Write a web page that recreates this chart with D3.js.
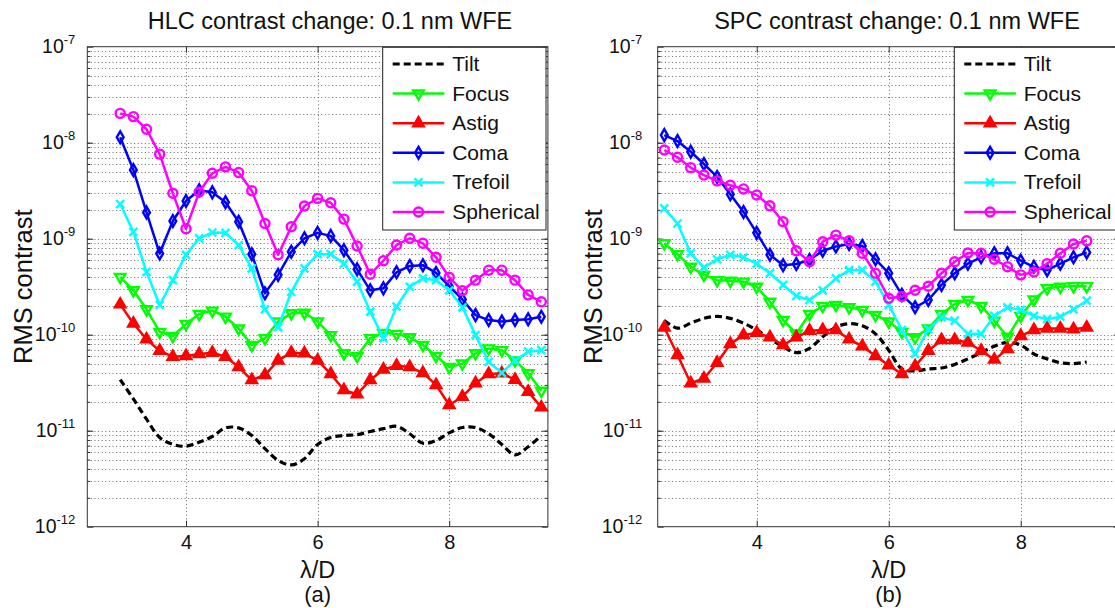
<!DOCTYPE html>
<html>
<head>
<meta charset="utf-8">
<script src="https://cdn.jsdelivr.net/npm/d3@7"></script>
<style>
  html, body { margin: 0; padding: 0; background: #fff; overflow: hidden; }
  svg { display: block; font-family: "Liberation Sans", Arial, Helvetica, sans-serif; }
</style>
</head>
<body>
<svg id="fig" width="1115" height="608"></svg>
<script>
// ---- Data: RMS contrast change per aberration, 0.1 nm WFE ----
const seriesNames = ["Tilt", "Focus", "Astig", "Coma", "Trefoil", "Spherical"];

// HLC panel (a)
const hlcLambda = [3.0, 3.2, 3.4, 3.6, 3.8, 4.0, 4.2, 4.4, 4.6, 4.8, 5.0, 5.2, 5.4, 5.6, 5.8, 6.0, 6.2,
                   6.4, 6.6, 6.8, 7.0, 7.2, 7.4, 7.6, 7.8, 8.0, 8.2, 8.4, 8.6, 8.8, 9.0, 9.2, 9.4];
const hlcTilt = [3.4e-11, 2.14e-11, 1.32e-11, 8.5e-12, 7.2e-12, 6.9e-12, 7.6e-12, 8.7e-12, 1.07e-11, 1.07e-11,
                 8.9e-12, 6.5e-12, 4.9e-12, 4.4e-12, 5.1e-12, 7.2e-12, 8.5e-12, 8.9e-12, 9.1e-12, 9.8e-12,
                 1.05e-11, 1.11e-11, 9.3e-12, 7.4e-12, 7.9e-12, 9.5e-12, 1.08e-11, 1.08e-11, 9.3e-12, 7.2e-12,
                 5.6e-12, 6.8e-12, 8.9e-12];
const hlcFocus = [4.0e-10, 2.9e-10, 1.84e-10, 1.07e-10, 9.7e-11, 1.29e-10, 1.64e-10, 1.78e-10, 1.54e-10, 1.16e-10,
                  7.8e-11, 9.2e-11, 1.37e-10, 1.67e-10, 1.69e-10, 1.37e-10, 9.9e-11, 6.4e-11, 6.0e-11, 9.2e-11,
                  1.04e-10, 1.02e-10, 9.4e-11, 7.8e-11, 6.0e-11, 4.6e-11, 5.0e-11, 6.4e-11, 7.2e-11, 6.9e-11,
                  5.4e-11, 3.96e-11, 2.6e-11];
const hlcAstig = [2.07e-10, 1.31e-10, 8.95e-11, 6.8e-11, 5.9e-11, 6.0e-11, 6.3e-11, 6.5e-11, 5.9e-11, 4.6e-11,
                  3.37e-11, 3.8e-11, 5.4e-11, 6.5e-11, 6.4e-11, 5.4e-11, 3.9e-11, 2.65e-11, 2.4e-11, 3.37e-11,
                  4.35e-11, 4.75e-11, 4.6e-11, 4.0e-11, 3.0e-11, 1.85e-11, 2.26e-11, 3.12e-11, 3.9e-11, 3.96e-11,
                  3.4e-11, 2.55e-11, 1.75e-11];
const hlcComa = [1.14e-8, 5.2e-9, 1.88e-9, 7.0e-10, 1.53e-9, 2.47e-9, 3.2e-9, 3.04e-9, 2.4e-9, 1.5e-9,
                 6.9e-10, 2.7e-10, 4.2e-10, 7.3e-10, 1.01e-9, 1.15e-9, 1.07e-9, 7.6e-10, 4.8e-10, 2.9e-10,
                 3.04e-10, 4.47e-10, 5.2e-10, 5.3e-10, 4.4e-10, 3.2e-10, 2.33e-10, 1.6e-10, 1.42e-10, 1.37e-10,
                 1.42e-10, 1.45e-10, 1.54e-10];
const hlcTrefoil = [2.3e-9, 1.18e-9, 4.5e-10, 2.04e-10, 3.7e-10, 6.8e-10, 1.01e-9, 1.16e-9, 1.15e-9, 8.6e-10,
                    4.9e-10, 1.84e-10, 1.19e-10, 2.8e-10, 4.9e-10, 6.9e-10, 6.9e-10, 5.5e-10, 3.57e-10, 1.74e-10,
                    9.2e-11, 1.96e-10, 3.16e-10, 3.86e-10, 3.7e-10, 2.9e-10, 1.93e-10, 9.9e-11, 5.2e-11, 4.0e-11,
                    5.4e-11, 6.65e-11, 6.9e-11];
const hlcSpherical = [2.02e-8, 1.87e-8, 1.38e-8, 7.6e-9, 2.97e-9, 1.27e-9, 3.06e-9, 4.8e-9, 5.6e-9, 4.9e-9,
                      3.16e-9, 1.44e-9, 6.8e-10, 1.33e-9, 2.19e-9, 2.63e-9, 2.37e-9, 1.6e-9, 8.4e-10, 4.26e-10,
                      5.9e-10, 8.6e-10, 1.01e-9, 8.95e-10, 6.4e-10, 3.96e-10, 2.88e-10, 3.7e-10, 4.7e-10, 4.7e-10,
                      3.7e-10, 2.6e-10, 2.2e-10];

// SPC panel (b)
const spcLambda = [2.6, 2.8, 3.0, 3.2, 3.4, 3.6, 3.8, 4.0, 4.2, 4.4, 4.6, 4.8, 5.0, 5.2, 5.4, 5.6, 5.8,
                   6.0, 6.2, 6.4, 6.6, 6.8, 7.0, 7.2, 7.4, 7.6, 7.8, 8.0, 8.2, 8.4, 8.6, 8.8, 9.0];
const spcTilt = [1.41e-10, 1.17e-10, 1.32e-10, 1.48e-10, 1.55e-10, 1.48e-10, 1.32e-10, 1.12e-10, 9.1e-11, 7.5e-11,
                 6.5e-11, 7.2e-11, 9.5e-11, 1.2e-10, 1.3e-10, 1.24e-10, 1.02e-10, 6.9e-11, 4.4e-11, 4.2e-11,
                 4.4e-11, 4.5e-11, 4.9e-11, 5.6e-11, 6.5e-11, 7.6e-11, 8.3e-11, 7.8e-11, 6.3e-11, 5.6e-11,
                 5.1e-11, 5.0e-11, 5.2e-11];
const spcFocus = [8.95e-10, 6.9e-10, 5.1e-10, 4.2e-10, 3.7e-10, 3.64e-10, 3.57e-10, 3.16e-10, 2.2e-10, 1.42e-10,
                  1.03e-10, 1.64e-10, 1.99e-10, 2.04e-10, 1.93e-10, 1.81e-10, 1.6e-10, 1.37e-10, 1.07e-10, 9.4e-11,
                  1.16e-10, 1.64e-10, 2.09e-10, 2.3e-10, 1.99e-10, 1.4e-10, 9.5e-11, 1.57e-10, 2.33e-10, 3.04e-10,
                  3.16e-10, 3.2e-10, 3.2e-10];
const spcAstig = [1.19e-10, 6.15e-11, 3.12e-11, 3.5e-11, 5.1e-11, 8.0e-11, 9.9e-11, 1.05e-10, 9.4e-11, 7.8e-11,
                  9.4e-11, 1.1e-10, 1.12e-10, 1.12e-10, 8.95e-11, 7.6e-11, 6.0e-11, 4.8e-11, 3.9e-11, 4.7e-11,
                  6.8e-11, 8.8e-11, 8.8e-11, 8.3e-11, 6.8e-11, 5.5e-11, 7.1e-11, 9.7e-11, 1.12e-10, 1.16e-10,
                  1.16e-10, 1.14e-10, 1.19e-10];
const spcComa = [1.2e-8, 1.04e-8, 8.05e-9, 6.0e-9, 4.4e-9, 2.9e-9, 1.9e-9, 1.15e-9, 6.8e-10, 5.3e-10,
                 5.45e-10, 6.0e-10, 7.5e-10, 8.3e-10, 8.8e-10, 8.4e-10, 6.1e-10, 4.37e-10, 2.6e-10, 1.93e-10,
                 2.3e-10, 3.3e-10, 4.37e-10, 5.5e-10, 6.4e-10, 7.05e-10, 7.05e-10, 5.9e-10, 5.1e-10, 4.7e-10,
                 5.5e-10, 6.4e-10, 7.2e-10];
const spcTrefoil = [2.07e-9, 1.44e-9, 7.05e-10, 5.0e-10, 6.1e-10, 6.8e-10, 6.4e-10, 5.5e-10, 4.37e-10, 3.3e-10,
                    2.53e-10, 2.3e-10, 2.9e-10, 3.86e-10, 4.7e-10, 4.7e-10, 3.57e-10, 2.04e-10, 1.12e-10, 6.3e-11,
                    1.14e-10, 1.52e-10, 1.4e-10, 1.02e-10, 1.02e-10, 1.57e-10, 1.93e-10, 1.81e-10, 1.57e-10, 1.45e-10,
                    1.54e-10, 1.84e-10, 2.26e-10];
const spcSpherical = [8.4e-9, 7.05e-9, 5.5e-9, 4.6e-9, 4.0e-9, 3.6e-9, 3.3e-9, 2.85e-9, 2.2e-9, 1.5e-9,
                      7.5e-10, 5.75e-10, 9.3e-10, 1.09e-9, 9.5e-10, 7.05e-10, 4.37e-10, 2.4e-10, 2.5e-10, 2.9e-10,
                      3.2e-10, 4.37e-10, 5.75e-10, 7.1e-10, 7.05e-10, 6.1e-10, 5.1e-10, 4.2e-10, 4.5e-10, 5.5e-10,
                      7.05e-10, 8.8e-10, 9.5e-10];

// Axis ticks and labels
const xDomain = [2.5, 9.5];
const xTickValues = [4, 6, 8];
const yDomain = [1e-12, 1e-7];
const yTickExponents = [-12, -11, -10, -9, -8, -7];
const panelTitles = ["HLC contrast change: 0.1 nm WFE", "SPC contrast change: 0.1 nm WFE"];
const panelTags = ["(a)", "(b)"];
const xLabel = "\u03bb/D";
const yLabel = "RMS contrast";

// ---- Styling ----
const styles = {
  Tilt:      { color: "#000000", marker: null, dash: "7,4", width: 3.2 },
  Focus:     { color: "#00ff00", marker: "triDown", fill: "none" },
  Astig:     { color: "#ff0000", marker: "triUp", fill: "#ff0000" },
  Coma:      { color: "#0000ff", marker: "diamond", fill: "none" },
  Trefoil:   { color: "#00ffff", marker: "x", fill: "none" },
  Spherical: { color: "#ff00ff", marker: "circle", fill: "none" }
};

function markerPath(kind) {
  switch (kind) {
    case "triUp":   return d3.symbol(d3.symbolTriangle, 48)();
    case "triDown": return d3.symbol(d3.symbolTriangle, 48)();
    case "diamond": return d3.symbol(d3.symbolDiamond, 40)();
    case "circle":  return d3.symbol(d3.symbolCircle, 64)();
    case "x":       return "M-4,-4L4,4M-4,4L4,-4";
  }
  return "";
}
function markerRotate(kind) { return kind === "triDown" ? " rotate(180)" : ""; }

const panels = [
  { title: panelTitles[0], tag: panelTags[0], lambda: hlcLambda,
    values: [hlcTilt, hlcFocus, hlcAstig, hlcComa, hlcTrefoil, hlcSpherical],
    left: 87.3, right: 547.9, titleX: 330, labelGap: 12, legendX: 382.7 },
  { title: panelTitles[1], tag: panelTags[1], lambda: spcLambda,
    values: [spcTilt, spcFocus, spcAstig, spcComa, spcTrefoil, spcSpherical],
    left: 657.7, right: 1119.7, titleX: 897, labelGap: 15.5, legendX: 954.3 }
];
const plotTop = 46.7, plotBottom = 526.7;

const svg = d3.select("#fig");
svg.append("rect").attr("width", 1115).attr("height", 608).attr("fill", "#fff");

panels.forEach(p => {
  const x = d3.scaleLinear().domain(xDomain).range([p.left, p.right]);
  const y = d3.scaleLog().domain(yDomain).range([plotBottom, plotTop]);
  const g = svg.append("g");
  const cx = (p.left + p.right) / 2;

  // dotted grid
  const allY = y.ticks().filter(v => v > yDomain[0] * 1.001 && v < yDomain[1] * 0.999);
  const majorY = yTickExponents.map(e => Math.pow(10, e));
  const grid = g.append("g").attr("stroke", "#6a6a6a").attr("stroke-width", 1)
    .attr("stroke-dasharray", "1,2.6");
  grid.selectAll("line.h").data(allY).join("line").attr("class", "h")
    .attr("x1", p.left).attr("x2", p.right)
    .attr("y1", d => Math.round(y(d)) + 0.5).attr("y2", d => Math.round(y(d)) + 0.5);
  grid.selectAll("line.v").data(xTickValues).join("line").attr("class", "v")
    .attr("x1", d => Math.round(x(d)) + 0.5).attr("x2", d => Math.round(x(d)) + 0.5)
    .attr("y1", plotTop).attr("y2", plotBottom);

  // inward ticks
  const tickStyle = sel => {
    sel.select(".domain").remove();
    sel.selectAll("line").attr("stroke", "#333");
  };
  g.append("g").attr("transform", `translate(${p.left},0)`)
    .call(d3.axisLeft(y).tickValues(allY).tickSize(-3).tickFormat("")).call(tickStyle);
  g.append("g").attr("transform", `translate(${p.left},0)`)
    .call(d3.axisLeft(y).tickValues(majorY).tickSize(-6).tickFormat("")).call(tickStyle);
  g.append("g").attr("transform", `translate(${p.right},0)`)
    .call(d3.axisRight(y).tickValues(allY).tickSize(-3).tickFormat("")).call(tickStyle);
  g.append("g").attr("transform", `translate(${p.right},0)`)
    .call(d3.axisRight(y).tickValues(majorY).tickSize(-6).tickFormat("")).call(tickStyle);
  g.append("g").attr("transform", `translate(0,${plotTop})`)
    .call(d3.axisTop(x).tickValues(xTickValues).tickSize(-6).tickFormat("")).call(tickStyle);
  const xa = g.append("g").attr("transform", `translate(0,${plotBottom})`)
    .call(d3.axisBottom(x).tickValues(xTickValues).tickSize(-6).tickPadding(8).tickFormat(d3.format("d")))
    .call(tickStyle);
  xa.attr("font-size", null).attr("font-family", null);
  xa.selectAll("text").attr("font-size", 20).attr("fill", "#111");

  // y tick labels as 10^n
  const yl = g.append("g").attr("fill", "#111");
  yTickExponents.forEach(e => {
    const t = yl.append("text")
      .attr("x", p.left - p.labelGap)
      .attr("y", y(Math.pow(10, e)) + 6)
      .attr("text-anchor", "end");
    t.append("tspan").attr("font-size", 19.5).text("10");
    t.append("tspan").attr("font-size", 13).attr("dy", -8.5).text(String(e));
  });

  // series
  const line = d3.line().x(d => x(d[0])).y(d => y(d[1]));
  seriesNames.forEach((name, i) => {
    const st = styles[name];
    const pts = p.lambda.map((l, k) => [l, p.values[i][k]]);
    g.append("path").datum(pts)
      .attr("d", st.marker ? line.curve(d3.curveLinear)(pts) : line.curve(d3.curveCatmullRom)(pts))
      .attr("fill", "none").attr("stroke", st.color)
      .attr("stroke-width", st.width || 2.5)
      .attr("stroke-dasharray", st.dash || null)
      .attr("stroke-linejoin", "round");
    if (st.marker) {
      g.append("g").selectAll("path").data(pts).join("path")
        .attr("transform", d => `translate(${x(d[0])},${y(d[1])})${markerRotate(st.marker)}`)
        .attr("d", markerPath(st.marker))
        .attr("fill", st.fill).attr("stroke", st.color).attr("stroke-width", 2.4);
    }
  });

  // frame
  g.append("rect").attr("x", p.left).attr("y", plotTop)
    .attr("width", p.right - p.left).attr("height", plotBottom - plotTop)
    .attr("fill", "none").attr("stroke", "#333").attr("stroke-width", 1);

  // legend
  const lg = g.append("g");
  const lx = p.legendX, ly = 47.3, lw = 163.3, lh = 182.7, rowH = 29.6, row0 = 64;
  lg.append("rect").attr("x", lx).attr("y", ly).attr("width", lw).attr("height", lh)
    .attr("fill", "#fff").attr("stroke", "#222").attr("stroke-width", 1);
  seriesNames.forEach((name, i) => {
    const st = styles[name];
    const ry = row0 + i * rowH;
    lg.append("line").attr("x1", lx + 10).attr("x2", lx + 61.6).attr("y1", ry).attr("y2", ry)
      .attr("stroke", st.color).attr("stroke-width", st.width || 2.5)
      .attr("stroke-dasharray", st.dash || null);
    if (st.marker) {
      lg.append("path").attr("transform", `translate(${lx + 35.8},${ry})${markerRotate(st.marker)}`)
        .attr("d", markerPath(st.marker)).attr("fill", st.fill)
        .attr("stroke", st.color).attr("stroke-width", 2.4);
    }
    lg.append("text").attr("x", lx + 69.5).attr("y", ry + 7).attr("font-size", 21)
      .attr("fill", "#111").text(name);
  });

  // titles and labels
  g.append("text").attr("x", p.titleX).attr("y", 29).attr("text-anchor", "middle")
    .attr("font-size", 23.5).attr("fill", "#111").text(p.title);
  g.append("text").attr("x", cx).attr("y", 578).attr("text-anchor", "middle")
    .attr("font-size", 23.5).attr("fill", "#111").text(xLabel);
  g.append("text").attr("x", cx).attr("y", 602).attr("text-anchor", "middle")
    .attr("font-size", 22).attr("fill", "#111").text(p.tag);
  g.append("text").attr("transform", `translate(${p.left - 55.6},${(plotTop + plotBottom) / 2}) rotate(-90)`)
    .attr("text-anchor", "middle").attr("font-size", 25.5).attr("fill", "#111").text(yLabel);
});
</script>
</body>
</html>
